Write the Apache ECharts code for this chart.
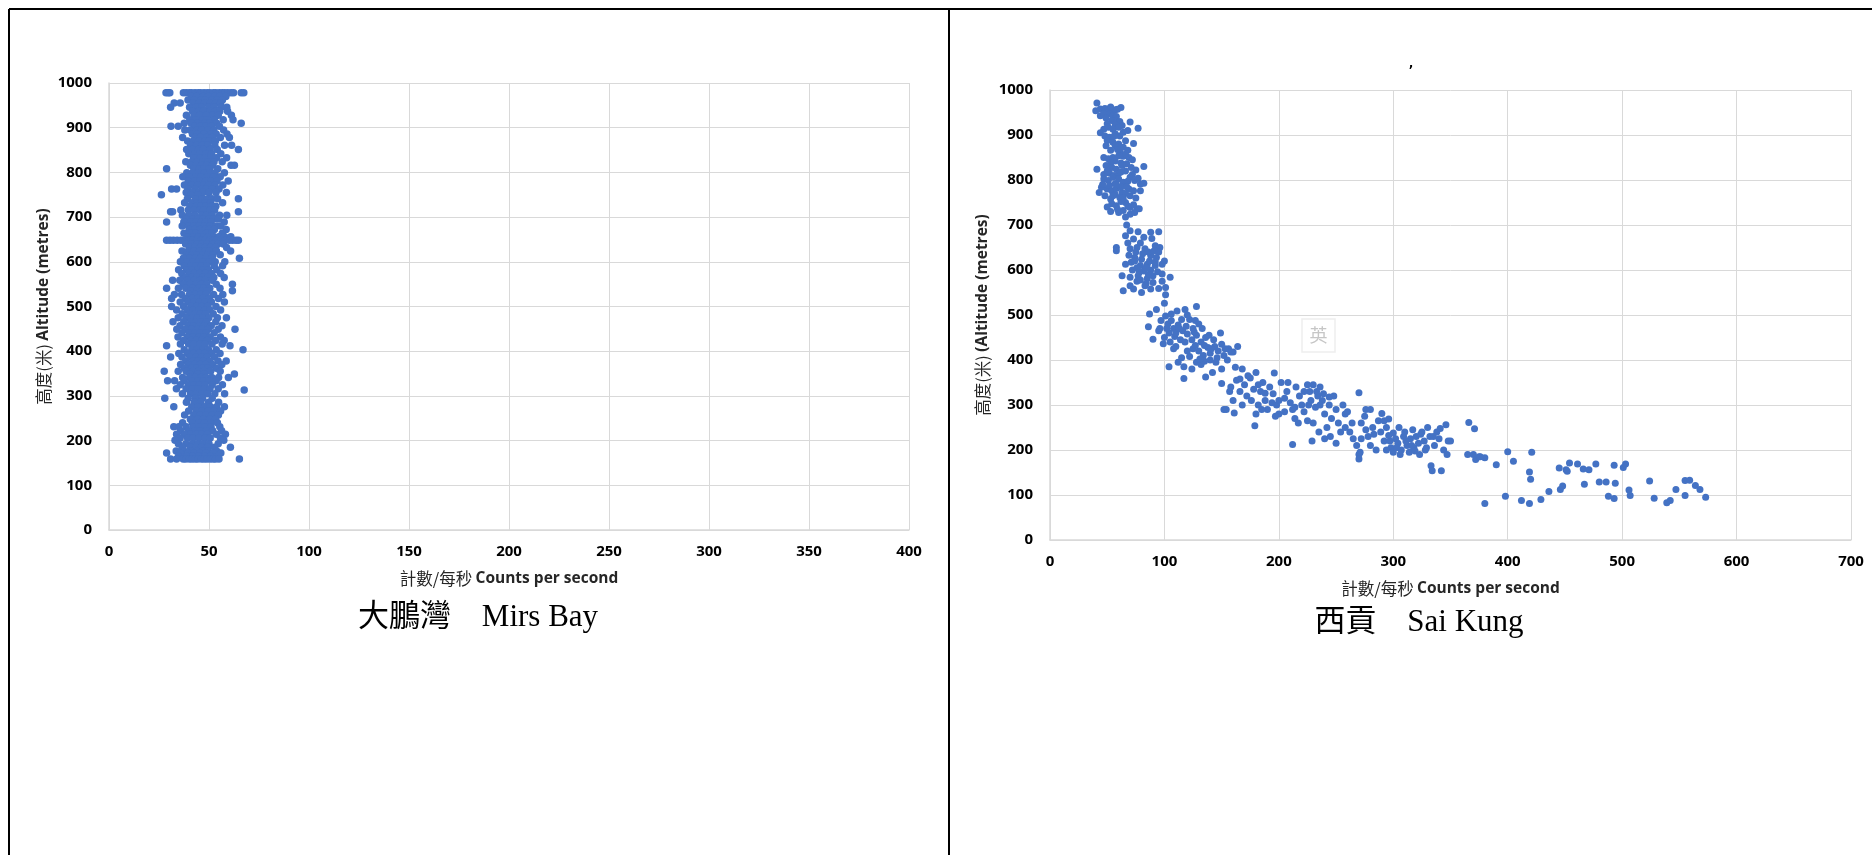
<!DOCTYPE html>
<html>
<head>
<meta charset="utf-8">
<script src="https://cdn.jsdelivr.net/npm/echarts@6/dist/echarts.min.js"></script>
<style>
html,body{margin:0;padding:0;background:#fff;}
#chart{width:1872px;height:855px;}
</style>
</head>
<body>
<div id="chart"></div>
<script>
// ---------- Labels ----------
const xTitleCn = '計數/每秒';
const xTitleEn = 'Counts per second';
const leftYTitleCn = '高度(米)';
const leftYTitleEn = 'Altitude (metres)';
const rightYTitleCn = '高度(米)';
const rightYTitleEn = '(Altitude (metres)';
const leftCaption = '大鵬灣　Mirs Bay';
const rightCaption = '西貢　Sai Kung';

// ---------- Axis ticks ----------
const leftXTicks = [0, 50, 100, 150, 200, 250, 300, 350, 400];
const rightXTicks = [0, 100, 200, 300, 400, 500, 600, 700];
const yTicks = [0, 100, 200, 300, 400, 500, 600, 700, 800, 900, 1000];

// ---------- Mirs Bay data: rows of [altitude, [counts per second ...]] ----------
const mirsRows = [
  [978, [28.5, 29.6, 30.4, 37.2, 38.6, 40.1, 41.3, 43.0, 44.6, 45.8, 47.5, 49.1, 50.4, 52.2, 53.4, 55.1, 56.6, 57.9, 59.4, 61.0, 62.3, 66.1, 67.4]],
  [970, [41.2, 43.8, 47.1, 49.6, 52.8, 55.3, 58.4]],
  [962, [39.5, 42.7, 45.9, 48.2, 51.4, 53.9, 56.7]],
  [955, [32.6, 35.6, 42.1, 44.9, 47.8, 50.7, 53.3, 55.8]],
  [946, [30.8, 40.3, 43.6, 46.4, 49.9, 52.6, 56.1, 58.9]],
  [937, [41.8, 44.7, 47.3, 50.5, 53.1, 55.4, 59.3]],
  [928, [38.7, 42.5, 45.2, 48.8, 51.9, 54.6, 61.2]],
  [918, [40.4, 43.3, 46.8, 49.2, 52.7, 57.1, 62.0]],
  [910, [37.6, 41.1, 44.4, 47.7, 50.3, 53.8, 66.1]],
  [903, [31.0, 34.6, 42.9, 45.6, 48.4, 51.1, 55.2]],
  [895, [37.9, 40.6, 43.9, 46.3, 49.5, 52.4, 57.3]],
  [886, [41.7, 44.2, 47.6, 50.8, 53.6, 59.0]],
  [878, [36.8, 43.1, 45.7, 48.9, 51.6, 55.7, 60.2]],
  [870, [39.3, 42.2, 45.1, 47.9, 50.1, 53.2]],
  [861, [40.8, 43.7, 46.6, 49.4, 52.9, 57.8, 61.3]],
  [851, [38.8, 41.6, 44.8, 47.2, 50.6, 54.1, 64.7]],
  [842, [39.9, 42.9, 45.4, 48.5, 51.3, 55.9]],
  [833, [42.3, 45.8, 48.1, 50.9, 53.7, 58.8]],
  [824, [38.4, 41.4, 44.1, 46.9, 49.7, 52.5, 56.6]],
  [816, [40.7, 43.5, 46.2, 48.7, 51.8, 61.0, 62.7]],
  [808, [28.8, 42.4, 45.3, 47.4, 50.2, 54.4]],
  [799, [38.9, 41.9, 44.6, 47.8, 50.4, 53.0, 57.7]],
  [790, [36.9, 40.2, 43.4, 46.0, 49.1, 52.3, 55.6]],
  [781, [39.6, 42.8, 45.5, 48.3, 51.2, 54.0, 59.6]],
  [772, [37.7, 41.3, 44.3, 47.5, 49.8, 52.9, 56.9]],
  [763, [31.3, 33.8, 39.4, 43.0, 46.5, 48.6, 51.7, 55.0]],
  [755, [38.6, 42.0, 45.0, 47.0, 50.0, 53.5, 58.7]],
  [750, [26.2, 40.9, 44.5]],
  [741, [39.2, 43.2, 46.7, 49.3, 51.5, 54.3, 64.7]],
  [732, [37.8, 41.5, 44.0, 46.1, 48.0, 50.8, 56.8]],
  [724, [40.5, 43.8, 45.9, 48.4, 51.1, 53.4]],
  [716, [35.9, 39.7, 42.6, 45.6, 47.3, 50.4, 52.8]],
  [712, [30.8, 31.8, 64.7]],
  [704, [36.7, 40.0, 43.1, 46.4, 48.8, 51.6, 55.3, 58.9]],
  [696, [38.5, 41.8, 44.5, 47.1, 49.9, 52.2, 54.7]],
  [689, [28.8, 37.4, 40.8, 43.6, 46.2, 48.3, 51.0, 57.6]],
  [680, [36.6, 39.8, 42.3, 45.1, 47.7, 50.6, 53.6, 55.9]],
  [672, [40.1, 42.9, 45.6, 48.2, 50.1, 52.7, 58.6]],
  [664, [37.5, 40.6, 43.4, 46.0, 48.6, 51.4, 56.6]],
  [656, [39.2, 42.1, 44.8, 47.4, 49.6, 52.4, 54.9, 57.8, 60.9]],
  [648, [28.8, 30.5, 32.2, 34.1, 36.0, 38.2, 40.1, 41.9, 44.0, 46.1, 48.0, 50.2, 52.1, 53.8, 56.0, 58.1, 60.2, 61.8, 63.5, 64.7]],
  [640, [38.3, 41.2, 43.9, 46.6, 49.0, 51.8, 54.4, 57.2]],
  [632, [40.3, 43.0, 45.7, 48.1, 50.7, 53.3, 58.8]],
  [624, [36.5, 39.6, 42.4, 45.3, 47.9, 50.2, 53.7, 60.8]],
  [616, [38.6, 41.6, 44.2, 46.9, 49.4, 52.0, 55.6]],
  [608, [37.2, 40.4, 43.3, 45.8, 48.5, 51.6, 65.2]],
  [600, [35.7, 39.0, 42.0, 44.6, 47.2, 50.0, 53.1, 57.9]],
  [591, [37.6, 40.9, 43.7, 46.3, 48.9, 52.6, 56.8]],
  [582, [34.8, 38.8, 41.5, 44.4, 47.0, 49.7, 53.9]],
  [574, [36.4, 40.0, 42.7, 45.4, 48.2, 51.3, 55.8]],
  [565, [38.2, 41.3, 44.0, 46.8, 49.5, 52.4, 57.6]],
  [559, [31.8, 35.4, 39.1, 42.8, 45.6, 48.0, 51.5]],
  [550, [37.1, 40.5, 43.5, 46.1, 48.7, 53.6, 61.7]],
  [541, [28.8, 34.7, 38.4, 41.9, 44.7, 47.4, 50.4, 55.5]],
  [535, [40.8, 43.9, 46.6, 49.2, 61.7]],
  [527, [32.7, 36.3, 40.2, 43.2, 45.9, 48.5, 52.3, 56.9]],
  [518, [31.3, 38.1, 41.7, 44.4, 47.0, 50.1, 54.7]],
  [510, [35.6, 39.4, 42.5, 45.2, 48.0, 51.2, 57.7]],
  [500, [31.3, 37.3, 41.0, 43.8, 46.4, 49.3, 53.5]],
  [492, [33.8, 39.2, 42.2, 45.0, 47.8, 50.5, 55.8]],
  [484, [36.6, 40.4, 43.1, 45.8, 48.3, 52.1]],
  [475, [34.6, 38.5, 41.6, 44.3, 46.9, 49.9, 54.2, 58.7]],
  [466, [32.0, 37.4, 40.9, 43.6, 46.2, 48.8, 53.4]],
  [457, [35.5, 39.5, 42.3, 45.1, 47.6, 51.1, 56.5]],
  [449, [33.9, 38.2, 41.4, 44.2, 46.8, 49.6, 54.6, 63.0]],
  [441, [36.5, 40.2, 43.0, 45.7, 48.5, 52.6]],
  [432, [34.5, 39.1, 42.1, 44.9, 47.3, 50.6, 55.7]],
  [424, [37.3, 41.1, 43.7, 46.5, 49.1, 53.3, 57.6]],
  [416, [35.7, 39.8, 42.6, 45.4, 48.1, 51.5, 56.6]],
  [412, [28.8, 60.5]],
  [403, [37.6, 41.4, 44.1, 46.9, 49.7, 53.6, 67.0]],
  [395, [34.9, 39.3, 42.4, 45.2, 47.9, 51.3, 55.5]],
  [387, [30.8, 36.5, 40.5, 43.4, 46.3, 48.9, 52.7]],
  [378, [38.4, 41.9, 44.6, 47.2, 50.3, 54.5, 58.6]],
  [370, [35.8, 39.6, 42.8, 45.6, 48.4, 51.7, 56.4]],
  [362, [37.7, 41.2, 43.9, 46.6, 49.4, 53.7]],
  [355, [27.6, 34.6, 38.6, 42.0, 44.8, 47.5, 50.8, 55.6]],
  [349, [40.6, 44.3, 47.7, 62.7]],
  [341, [36.8, 40.3, 43.2, 46.1, 48.6, 51.4, 54.8, 59.7]],
  [334, [29.3, 32.8, 37.6, 41.5, 44.5, 47.3, 50.2, 53.6]],
  [325, [35.6, 39.7, 42.7, 45.3, 48.0, 51.6, 56.7]],
  [316, [33.7, 38.5, 41.8, 44.7, 47.6, 50.5, 54.6]],
  [313, [67.6]],
  [305, [36.7, 40.8, 43.6, 46.4, 49.2, 52.9, 57.8]],
  [295, [27.9, 39.6, 43.3, 46.8, 51.6]],
  [286, [38.7, 42.6, 45.9, 49.8, 54.8]],
  [276, [32.4, 41.4, 44.7, 47.9, 50.7, 53.8, 57.7]],
  [266, [39.8, 43.5, 46.6, 49.4, 52.6, 55.8]],
  [257, [37.8, 42.4, 45.4, 48.5, 51.4, 54.7]],
  [248, [40.7, 44.2, 47.3, 50.2, 53.3]],
  [240, [36.8, 41.6, 44.9, 47.8, 50.9, 54.2]],
  [231, [32.4, 34.9, 38.6, 42.3, 45.2, 48.2, 51.0, 55.4]],
  [222, [35.8, 39.6, 42.9, 45.7, 48.6, 51.8, 56.3]],
  [214, [33.8, 37.7, 40.9, 43.6, 46.4, 49.3, 53.6, 58.2]],
  [206, [35.6, 39.3, 42.1, 45.0, 47.9, 50.6, 55.7]],
  [201, [33.0, 57.4]],
  [193, [34.7, 38.4, 41.6, 44.4, 47.1, 50.0, 54.6]],
  [185, [36.6, 40.6, 43.5, 46.3, 49.2, 52.7, 60.7]],
  [177, [33.6, 37.5, 41.2, 44.0, 46.8, 49.6, 53.8]],
  [172, [28.8, 35.7, 39.4, 42.7, 45.5, 48.3, 51.9, 55.9]],
  [165, [34.8, 38.7, 41.9, 44.9, 47.7, 50.8, 54.5]],
  [159, [30.8, 33.8, 37.1, 38.4, 40.2, 41.6, 43.1, 44.4, 46.2, 47.6, 49.0, 50.6, 52.1, 53.3, 55.0, 65.2]]
];

// ---------- Sai Kung data: [counts per second, altitude] ----------
const skUpper = [
  [41,971],[40,954],[44,958],[48,959],[51,958],[55,954],[57,956],[62,961],[53,962],[59,957],
  [44,943],[47,947],[52,947],[55,943],[58,941],[49,938],[54,932],[58,928],[61,930],[70,929],
  [50,925],[57,922],[63,921],[47,913],[51,917],[55,913],[60,917],[68,910],[77,915],[44,905],
  [48,898],[52,895],[61,898],[57,903],[66,887],[73,881],[50,888],[55,884],[60,880],[49,876],
  [57,876],[64,873],[53,866],[61,862],[68,866],[47,850],[51,847],[55,850],[60,854],[64,853],
  [69,850],[57,842],[62,838],[53,838],[41,824],[49,832],[54,828],[58,824],[63,832],[67,836],
  [71,828],[82,830],[75,822],[66,820],[60,815],[52,815],[47,812],[56,810],[72,812],[47,802],
  [51,799],[55,806],[60,802],[64,795],[70,806],[74,799],[79,791],[77,804],[68,797],[45,784],
  [50,780],[54,776],[58,781],[63,772],[69,780],[73,776],[46,790],[52,788],[57,792],[62,785],
  [66,770],[48,765],[53,758],[61,761],[70,765],[79,776],[57,768],[75,760],[54,747],[58,743],
  [66,750],[70,739],[76,736],[62,752],[50,740],[53,730],[60,728],[64,732],[70,724],[74,728],
  [78,736],[66,718],[73,745],[82,793],[43,772],[56,897],[64,906],[59,868],[66,858],[72,845],
  [50,820],[62,818],[58,790],[67,785],[55,765],[64,760],[68,742],[59,735]
];
const skMid = [
  [67,700],[70,687],[77,685],[88,684],[95,685],[66,676],[73,669],[82,673],[89,670],[58,650],
  [58,643],[70,647],[76,650],[83,647],[92,654],[96,650],[69,633],[74,628],[80,624],[88,632],
  [93,628],[66,613],[71,617],[79,610],[85,613],[92,610],[98,613],[63,587],[70,584],[77,587],
  [85,581],[90,587],[98,591],[105,584],[64,554],[73,558],[80,550],[88,558],[95,559],[101,561],
  [75,640],[86,640],[79,660],[72,600],[82,598],[88,600],[94,596],[76,575],[84,570],[90,572],
  [74,620],[81,636],[87,620],[95,640],[78,595],[70,565],[86,590],[91,643],[100,620],[68,660],
  [83,565],[101,545],[98,575],[79,578],[92,618],[84,605],[76,605]
];
const skKnee = [
  [87,502],[86,474],[90,446],[95,465],[100,526],[101,498],[106,502],[111,509],[118,512],[128,519],
  [93,512],[97,488],[103,480],[108,470],[112,478],[116,465],[104,460],[109,452],[114,445],[120,458],
  [125,470],[122,490],[127,488],[130,480],[118,440],[124,445],[128,455],[132,440],[136,450],[138,428],
  [130,420],[125,425],[120,420],[134,410],[140,415],[144,430],[147,420],[150,435],[152,410],[156,425],
  [160,418],[164,430],[149,460],[143,445],[110,430],[105,440],[100,450],[104,385],[117,385],[117,359],
  [136,362],[135,397],[128,395],[132,390],[140,400],[145,395],[112,395],[115,405],[122,408],[158,418],
  [162,384],[168,380],[155,400],[150,380],[142,372],[108,425],[96,470],[99,436],[115,490],[120,500],
  [102,470],[127,432],[133,470],[139,455],[146,405],[131,402],[124,380],[153,425],[110,460],[106,488],
  [113,470],[119,475],[126,462],[135,432],[141,425]
];
const skBend = [
  [150,348],[152,290],[154,290],[161,282],[158,340],[163,355],[166,330],[170,345],[172,320],[175,360],
  [178,335],[180,372],[184,330],[186,350],[179,254],[182,300],[188,310],[190,290],[192,340],[195,325],
  [196,371],[198,300],[200,280],[202,350],[205,315],[207,330],[210,305],[212,290],[212,212],[214,270],
  [215,340],[218,320],[220,300],[222,285],[225,345],[227,330],[228,310],[230,260],[232,295],[234,320],
  [236,340],[238,310],[240,280],[242,250],[244,300],[246,270],[248,320],[250,290],[252,260],[254,240],
  [256,300],[258,280],[240,225],[235,240],[225,265],[217,260],[205,285],[197,275],[185,290],[176,310],
  [168,300],[160,310],[157,330],[229,220],[245,230],[250,215],[244,318],[236,300],[226,300],[208,350],
  [214,295],[222,330],[200,310],[194,305],[188,326],[182,345],[173,365],[166,358],[180,280],[230,345],
  [233,330],[239,325]
];
const skTail = [
  [260,285],[262,240],[265,225],[268,210],[270,327],[272,260],[275,275],[276,245],[278,230],[280,210],
  [282,250],[285,200],[287,265],[289,240],[290,281],[292,220],[294,250],[296,269],[298,205],[300,238],
  [300,195],[302,225],[304,215],[305,250],[307,200],[309,230],[310,240],[312,210],[314,195],[315,225],
  [317,245],[318,205],[320,230],[322,215],[323,190],[325,240],[327,220],[328,200],[330,250],[332,230],
  [333,165],[334,154],[336,210],[338,240],[340,225],[342,154],[344,200],[346,256],[348,220],[350,220],
  [347,190],[270,190],[272,225],[283,235],[297,220],[303,205],[306,190],[311,220],[316,210],[324,235],
  [329,205],[271,195],[292,265],[258,250],[264,260],[276,290],[280,290],[294,200],[319,198],[335,230],
  [341,248],[296,232],[270,180]
];
const skFar = [
  [366,261],[371,247],[365,190],[370,190],[372,179],[375,185],[380,183],[376,185],[380,81],[390,167],
  [398,97],[400,196],[405,175],[412,88],[419,151],[420,135],[419,81],[421,195],[429,90],[436,108],
  [445,160],[446,112],[448,120],[451,156],[452,153],[454,171],[461,169],[466,158],[467,124],[471,156],
  [477,169],[480,129],[486,129],[488,97],[493,92],[493,166],[494,126],[501,161],[503,169],[506,111],
  [507,99],[524,131],[528,93],[539,83],[542,88],[547,112],[555,99],[555,132],[559,133],[564,121],
  [568,112],[573,95]
];

// ---------- Build series data ----------
const mirsData = [];
mirsRows.forEach(function (r) { r[1].forEach(function (x) { mirsData.push([x, r[0]]); }); });
const saiKungData = [].concat(skUpper, skMid, skKnee, skBend, skTail, skFar);

// ---------- Styles ----------
const blue = '#4472C4';
const gridColor = '#d9d9d9';
const tickFont = { color: '#000', fontWeight: 'bold', fontFamily: 'Open Sans', fontSize: 15 };
const titleRich = {
  c: { fontFamily: 'Noto Sans CJK TC', fontSize: 16.5, fontWeight: 'normal', color: '#262626' },
  e: { fontFamily: 'Open Sans', fontSize: 15.5, fontWeight: 'bold', color: '#262626' }
};
function plain(v) { return String(v); }

function xAxisCfg(gridIndex, ticks) {
  return {
    gridIndex: gridIndex, type: 'value',
    min: ticks[0], max: ticks[ticks.length - 1], interval: ticks[1] - ticks[0],
    axisLine: { show: true, lineStyle: { color: gridColor, width: 1.5 } },
    axisTick: { show: false },
    splitLine: { show: true, lineStyle: { color: gridColor, width: 1 } },
    axisLabel: Object.assign({ margin: 14, formatter: plain }, tickFont),
    name: '{c|' + xTitleCn + '} {e|' + xTitleEn + '}',
    nameLocation: 'middle', nameGap: 40,
    nameTextStyle: { rich: titleRich }
  };
}
function yAxisCfg(gridIndex, cn, en, gap) {
  return {
    gridIndex: gridIndex, type: 'value',
    min: yTicks[0], max: yTicks[yTicks.length - 1], interval: yTicks[1] - yTicks[0],
    axisLine: { show: true, lineStyle: { color: gridColor, width: 1.5 } },
    axisTick: { show: false },
    splitLine: { show: true, lineStyle: { color: gridColor, width: 1 } },
    axisLabel: Object.assign({ margin: 17, formatter: plain }, tickFont),
    name: '{c|' + cn + '} {e|' + en + '}',
    nameLocation: 'middle', nameRotate: 90, nameGap: gap,
    nameTextStyle: { rich: titleRich }
  };
}

const chart = echarts.init(document.getElementById('chart'), null, { renderer: 'canvas' });
chart.setOption({
  backgroundColor: '#fff',
  animation: false,
  grid: [
    { left: 109, top: 83, width: 800, height: 447 },
    { left: 1050, top: 90, width: 801, height: 450 }
  ],
  xAxis: [ xAxisCfg(0, leftXTicks), xAxisCfg(1, rightXTicks) ],
  yAxis: [
    yAxisCfg(0, leftYTitleCn, leftYTitleEn, 57),
    yAxisCfg(1, rightYTitleCn, rightYTitleEn, 59)
  ],
  series: [
    { type: 'scatter', xAxisIndex: 0, yAxisIndex: 0, data: mirsData, symbolSize: 7.5,
      itemStyle: { color: blue, opacity: 1 } },
    { type: 'scatter', xAxisIndex: 1, yAxisIndex: 1, data: saiKungData, symbolSize: 7,
      itemStyle: { color: blue, opacity: 1 } }
  ],
  graphic: [
    { type: 'line', shape: { x1: 9, y1: 9, x2: 1872, y2: 9 }, style: { stroke: '#000', lineWidth: 2 } },
    { type: 'line', shape: { x1: 9, y1: 9, x2: 9, y2: 855 }, style: { stroke: '#000', lineWidth: 2 } },
    { type: 'line', shape: { x1: 949, y1: 9, x2: 949, y2: 855 }, style: { stroke: '#000', lineWidth: 2 } },
    { type: 'text', x: 478, y: 618, style: { text: leftCaption, align: 'center', verticalAlign: 'middle',
      font: '31px "Liberation Serif", "Noto Sans CJK TC", serif', fill: '#000' } },
    { type: 'text', x: 1419, y: 623, style: { text: rightCaption, align: 'center', verticalAlign: 'middle',
      font: '31px "Liberation Serif", "Noto Sans CJK TC", serif', fill: '#000' } },
    { type: 'text', x: 1411, y: 71, style: { text: 'ʼ', align: 'center', verticalAlign: 'middle',
      font: 'bold 12px "DejaVu Sans"', fill: '#000' } },
    { type: 'rect', shape: { x: 1302, y: 319, width: 33, height: 33 },
      style: { fill: '#fff', stroke: '#eeeeee', lineWidth: 1.5 } },
    { type: 'text', x: 1318.5, y: 335.5, style: { text: '英', align: 'center', verticalAlign: 'middle',
      font: '18px "Noto Sans CJK TC"', fill: '#c6c6c6' } }
  ]
});
</script>
</body>
</html>
